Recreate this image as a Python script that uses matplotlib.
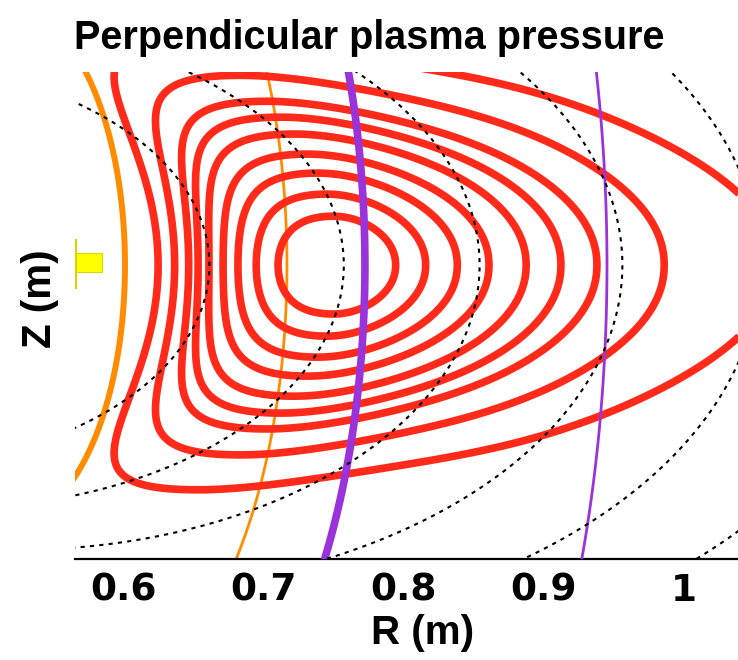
import numpy as np
import matplotlib.pyplot as plt

# axis ranges (m)
r_range = (0.565, 1.0386)
z_range = (-0.21, 0.138)

# x ticks
r_ticks = [0.6, 0.7, 0.8, 0.9, 1.0]
r_tick_labels = ['0.6', '0.7', '0.8', '0.9', '1']

# pressure profile: magnetic axis, shape parameters and drawn levels
axis_r = 0.7536
bean_c = 4.0          # 1/m, inward bend of the outer surfaces
bend_r, bend_w, bend_min = 0.08, 0.05, 0.15
lfs_scale, lfs_len, lfs_q = 1.04, 0.359, 2.1
hfs_scale, hfs_len = 1.47, 0.2857
p_width = 0.10
pressure_levels = [0.076, 0.159, 0.254, 0.327, 0.416, 0.533, 0.649, 0.773, 0.885]

# |B|-like surfaces (black dotted)
mod_curv, mod_r0 = 2.66, 0.19
mod_levels = [0.661, 0.757, 0.854, 0.956, 1.054, 1.152]

# resonance layers
res_curv, res_r0 = 0.20, 0.437
orange_levels = [0.6007, 0.7164]
orange_widths = [4.3, 2.0]
purple_levels = [0.7721, 0.945]
purple_widths = [5.5, 2.0]

# antenna
ant_r = [0.566, 0.5843]
ant_z = [-0.005, 0.0086]
ant_stem_z = [-0.0164, 0.0179]

R, Z = np.meshgrid(np.linspace(0.50, 1.10, 700), np.linspace(-0.26, 0.19, 600))
X = R - axis_r

# shifted radial coordinate, bent on the inboard side
s = bend_min + (1 - bend_min) / (1 + np.exp((X - bend_r) / bend_w))
u = X + bean_c * Z**2 * s
u_in = np.clip(-u, 0, 0.95 * hfs_len)
u_out = np.clip(u, 0, None)
rho_in = np.sqrt((u_in / (hfs_scale * (1 - u_in / hfs_len)))**2 + Z**2)
rho_out = ((u_out / (lfs_scale * (1 + u_out / lfs_len)))**lfs_q
           + np.abs(Z)**lfs_q)**(1 / lfs_q)
rho = np.where(u > 0, rho_out, rho_in)
pressure = np.exp(-(rho / p_width)**2)

bmod = R + mod_curv * Z**2 / (R - mod_r0)
res = R + res_curv * Z**2 / (R - res_r0)

fig = plt.figure(figsize=(7.38, 6.60), dpi=100)
ax = fig.add_axes([75 / 738, 101 / 660, 663 / 738, 487 / 660])

for lev, lw in zip(orange_levels, orange_widths):
    ax.contour(R, Z, res, levels=[lev], colors='#FF8C00', linewidths=lw, zorder=2)
ax.contour(R, Z, pressure, levels=pressure_levels, colors='#FF2A1A',
           linewidths=5.5, zorder=3)
for lev, lw in zip(purple_levels, purple_widths):
    ax.contour(R, Z, res, levels=[lev], colors='#9A34DA', linewidths=lw, zorder=4)
ax.contour(R, Z, bmod, levels=mod_levels, colors='black', linewidths=1.5,
           linestyles=[(0, (2, 2.5))], zorder=5)

ax.fill_between(ant_r, ant_z[0], ant_z[1], color='#FFFF00', ec='#D8D800', lw=0.8, zorder=6)
ax.plot([ant_r[0], ant_r[0]], ant_stem_z, color='#D8D800', lw=1.5, zorder=6)

ax.set_xlim(*r_range)
ax.set_ylim(*z_range)
ax.set_xticks(r_ticks)
ax.set_xticklabels(r_tick_labels, fontsize=27, fontweight='bold', family='DejaVu Sans')
ax.set_yticks([])
ax.tick_params(axis='x', length=0, pad=10)
for side in ['left', 'top', 'right']:
    ax.spines[side].set_visible(False)
ax.spines['bottom'].set_linewidth(1.6)

sans = ['Liberation Sans', 'DejaVu Sans']
fig.text(0.5, 0.942, 'Perpendicular plasma pressure', ha='center', va='center',
         fontsize=28.5, fontweight='bold', family=sans)
fig.text(0.573, 0.041, 'R (m)', ha='center', va='center',
         fontsize=29, fontweight='bold', family=sans)
fig.text(0.054, 0.548, 'Z (m)', ha='center', va='center', rotation=90,
         fontsize=29, fontweight='bold', family=sans)

fig.savefig('out.png', dpi=100, facecolor='white')
